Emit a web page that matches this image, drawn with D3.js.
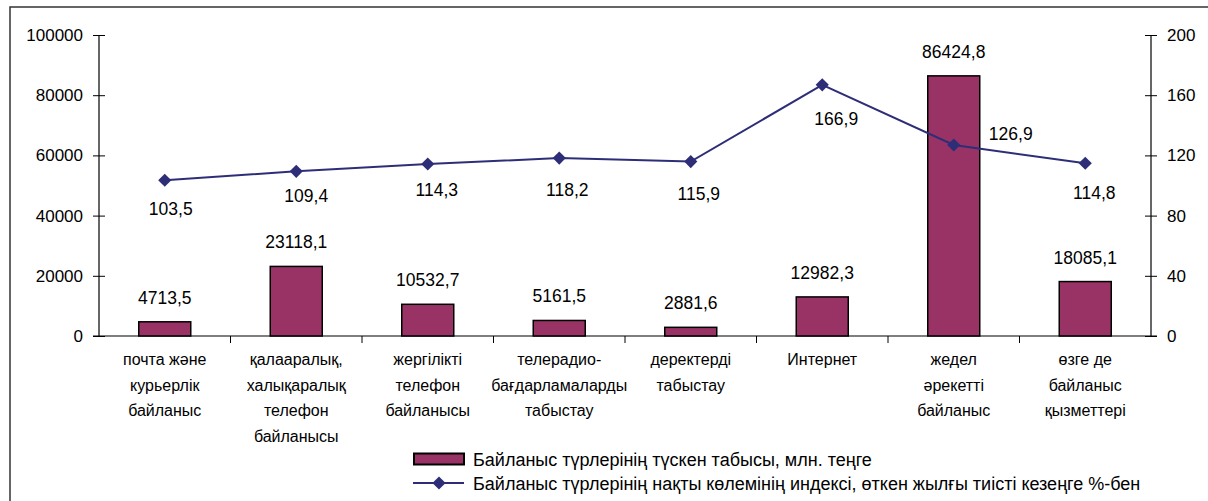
<!DOCTYPE html>
<html>
<head>
<meta charset="utf-8">
<script src="https://cdn.jsdelivr.net/npm/d3@7"></script>
<style>
  body { margin: 0; background: #fff; }
  text { font-family: "Liberation Sans", Arial, sans-serif; fill: #000; }
  .narrow { font-family: "Liberation Sans Narrow", "Liberation Sans", Arial, sans-serif; }
</style>
</head>
<body>
<svg id="chart" width="1208" height="501"></svg>
<script>
const categories = [
  ["почта және", "курьерлік", "байланыс"],
  ["қалааралық,", "халықаралық", "телефон", "байланысы"],
  ["жергілікті", "телефон", "байланысы"],
  ["телерадио-", "бағдарламаларды", "табыстау"],
  ["деректерді", "табыстау"],
  ["Интернет"],
  ["жедел", "әрекетті", "байланыс"],
  ["өзге де", "байланыс", "қызметтері"]
];
const income = [4713.5, 23118.1, 10532.7, 5161.5, 2881.6, 12982.3, 86424.8, 18085.1];
const index = [103.5, 109.4, 114.3, 118.2, 115.9, 166.9, 126.9, 114.8];
const leftTicks = [0, 20000, 40000, 60000, 80000, 100000];
const rightTicks = [0, 40, 80, 120, 160, 200];
const seriesNames = [
  "Байланыс түрлерінің түскен табысы, млн. теңге",
  "Байланыс түрлерінің нақты көлемінің индексі, өткен жылғы тиісті кезеңге %-бен"
];
// Excel-style label placement for the line labels (dx, dy from the point)
const lineLabelOffsets = [[6, 29], [10, 25], [9, 26], [8, 32], [8, 32], [14, 34], [57, -11], [9, 30]];

const fmt = v => String(v).replace(".", ",");
const svg = d3.select("#chart");
const plotL = 99, plotR = 1151, plotT = 35, plotB = 336;

// outer frame
svg.append("rect").attr("x", 10).attr("y", 7).attr("width", 1220).attr("height", 520)
  .attr("fill", "none").attr("stroke", "#333").attr("stroke-width", 1.5);

const x = d3.scaleBand().domain(d3.range(categories.length)).range([plotL, plotR]).paddingInner(0).paddingOuter(0);
const y = d3.scaleLinear().domain([0, 100000]).range([plotB, plotT]);
const y2 = d3.scaleLinear().domain([0, 200]).range([plotB, plotT]);
const barW = 52;

// axes
const yAxis = svg.append("g").attr("transform", `translate(${plotL},0)`)
  .call(d3.axisLeft(y).tickValues(leftTicks).tickSize(6).tickPadding(10).tickFormat(d => d));
yAxis.selectAll(".tick line").attr("x2", -6).attr("x1", 6);
const y2Axis = svg.append("g").attr("transform", `translate(${plotR},0)`)
  .call(d3.axisRight(y2).tickValues(rightTicks).tickSize(6).tickPadding(10));
y2Axis.selectAll(".tick line").attr("x1", -6).attr("x2", 6);
[yAxis, y2Axis].forEach(a => {
  a.select(".domain").remove();
  a.append("line").attr("y1", plotT).attr("y2", plotB).attr("stroke", "#000").attr("stroke-width", 1.2);
  a.selectAll(".tick line").attr("stroke", "#000");
  a.selectAll("text").style("font-size", "17px").attr("font-family", "Liberation Sans, Arial, sans-serif");
});

// baseline and category ticks
svg.append("line").attr("x1", plotL - 6).attr("x2", plotR + 6).attr("y1", plotB).attr("y2", plotB)
  .attr("stroke", "#000").attr("stroke-width", 1.2);
svg.selectAll(".ctick").data(d3.range(1, categories.length)).enter().append("line")
  .attr("x1", d => x(d)).attr("x2", d => x(d)).attr("y1", plotB).attr("y2", plotB + 7)
  .attr("stroke", "#000");

// bars
svg.selectAll(".bar").data(income).enter().append("rect")
  .attr("x", (d, i) => x(i) + x.bandwidth() / 2 - barW / 2)
  .attr("y", d => y(d)).attr("width", barW).attr("height", d => plotB - y(d))
  .attr("fill", "#993366").attr("stroke", "#000").attr("stroke-width", 1.5);
svg.selectAll(".blab").data(income).enter().append("text")
  .attr("x", (d, i) => x(i) + x.bandwidth() / 2).attr("y", d => y(d) - 18)
  .attr("text-anchor", "middle").style("font-size", "17.5px").text(fmt);

// line
const cx = i => x(i) + x.bandwidth() / 2;
svg.append("path").datum(index)
  .attr("d", d3.line().x((d, i) => cx(i)).y(d => y2(d)))
  .attr("fill", "none").attr("stroke", "#2e2e78").attr("stroke-width", 2);
const diamond = d3.symbol().type(d3.symbolDiamond2).size(110);
svg.selectAll(".pt").data(index).enter().append("path")
  .attr("d", diamond).attr("transform", (d, i) => `translate(${cx(i)},${y2(d)})`)
  .attr("fill", "#2e2e78");
svg.selectAll(".llab").data(index).enter().append("text")
  .attr("x", (d, i) => cx(i) + lineLabelOffsets[i][0]).attr("y", (d, i) => y2(d) + lineLabelOffsets[i][1] + 6)
  .attr("text-anchor", "middle").style("font-size", "17.5px").text(fmt);

// category labels
categories.forEach((lines, i) => {
  const t = svg.append("text").attr("class", "narrow").attr("text-anchor", "middle").style("font-size", "16px");
  lines.forEach((s, j) => t.append("tspan").attr("x", cx(i)).attr("y", 365 + j * 25.5).text(s));
});

// legend
svg.append("rect").attr("x", 414).attr("y", 453.5).attr("width", 50).attr("height", 11)
  .attr("fill", "#993366").attr("stroke", "#000").attr("stroke-width", 2);
svg.append("line").attr("x1", 413).attr("x2", 464).attr("y1", 483).attr("y2", 483)
  .attr("stroke", "#2e2e78").attr("stroke-width", 2);
svg.append("path").attr("d", diamond).attr("transform", "translate(439,483)").attr("fill", "#2e2e78");
seriesNames.forEach((s, i) => {
  svg.append("text").attr("class", "narrow").attr("x", 473).attr("y", 465.5 + i * 24)
    .style("font-size", "18px").text(s);
});
</script>
</body>
</html>
